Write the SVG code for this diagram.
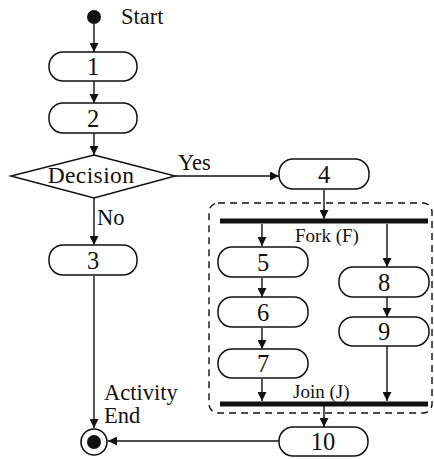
<svg xmlns="http://www.w3.org/2000/svg" width="434" height="459" viewBox="0 0 434 459">
  <defs>
    <marker id="arrow" viewBox="0 0 10 10" refX="10" refY="5" markerWidth="9" markerHeight="9" markerUnits="userSpaceOnUse" orient="auto">
      <path d="M0,0 L10,5 L0,10 z" fill="#111"/>
    </marker>
    <style>
      .node { fill: #fff; stroke: #111; stroke-width: 1.5; }
      .edge { fill: none; stroke: #111; stroke-width: 1.4; marker-end: url(#arrow); }
      .bar { fill: #111; }
      text { font-family: "Liberation Serif", "Times New Roman", serif; fill: #111; }
      .num { font-size: 24.5px; text-anchor: middle; }
      .lbl { font-size: 22.5px; }
      .small { font-size: 19px; }
    </style>
  </defs>

  <rect width="434" height="459" fill="#fff"/>

  <!-- parallel region -->
  <rect id="region" x="209" y="203" width="223" height="210" rx="9" fill="none" stroke="#111" stroke-width="1.4" stroke-dasharray="7,5"/>

  <g id="connectors">
    <path class="edge" d="M94,24 V52"/>
    <path class="edge" d="M94,81 V103"/>
    <path class="edge" d="M94,133 V155"/>
    <path class="edge" d="M175,176 H279"/>
    <path class="edge" d="M94,198 V245"/>
    <path class="edge" d="M94,276 V428"/>
    <path class="edge" d="M324,190 V219"/>
    <path class="edge" d="M262,224 V246"/>
    <path class="edge" d="M262,278 V297"/>
    <path class="edge" d="M262,328 V349"/>
    <path class="edge" d="M262,379 V401"/>
    <path class="edge" d="M387,224 V267"/>
    <path class="edge" d="M387,297 V317"/>
    <path class="edge" d="M387,346 V401"/>
    <path class="edge" d="M324,406 V427"/>
    <path class="edge" d="M279,441 H108"/>
  </g>

  <g id="start">
    <circle cx="94" cy="17" r="7" fill="#111"/>
    <text class="lbl" x="121" y="24">Start</text>
  </g>

  <g id="n1">
    <rect class="node" x="49" y="52" width="88" height="29" rx="14"/>
    <text class="num" x="93" y="75">1</text>
  </g>
  <g id="n2">
    <rect class="node" x="49" y="103" width="88" height="30" rx="14"/>
    <text class="num" x="93" y="127">2</text>
  </g>

  <g id="decision">
    <polygon class="node" points="94,155 175,176 94,198 11,176"/>
    <text x="91" y="183" text-anchor="middle" font-size="23.5" letter-spacing="0.4">Decision</text>
    <text class="lbl" x="178" y="170">Yes</text>
    <text class="lbl" x="97" y="225">No</text>
  </g>

  <g id="n3">
    <rect class="node" x="49" y="245" width="88" height="30" rx="14"/>
    <text class="num" x="93" y="269">3</text>
  </g>

  <g id="n4">
    <rect class="node" x="279" y="159" width="90" height="30" rx="14"/>
    <text class="num" x="324" y="183">4</text>
  </g>

  <g id="fork">
    <rect class="bar" x="220" y="218.5" width="208" height="5"/>
    <text class="small" x="295" y="242">Fork (F)</text>
  </g>

  <g id="n5">
    <rect class="node" x="218" y="247" width="90" height="30" rx="14"/>
    <text class="num" x="263" y="271">5</text>
  </g>
  <g id="n6">
    <rect class="node" x="218" y="297" width="90" height="30" rx="14"/>
    <text class="num" x="263" y="321">6</text>
  </g>
  <g id="n7">
    <rect class="node" x="218" y="349" width="90" height="29" rx="14"/>
    <text class="num" x="263" y="372">7</text>
  </g>
  <g id="n8">
    <rect class="node" x="339" y="267" width="90" height="30" rx="14"/>
    <text class="num" x="384" y="291">8</text>
  </g>
  <g id="n9">
    <rect class="node" x="339" y="317" width="90" height="29" rx="14"/>
    <text class="num" x="384" y="340">9</text>
  </g>

  <g id="join">
    <rect class="bar" x="220" y="401.5" width="208" height="5"/>
    <text class="small" x="293" y="398">Join (J)</text>
  </g>

  <g id="n10">
    <rect class="node" x="279" y="427" width="89" height="29" rx="14"/>
    <text class="num" x="323" y="450">10</text>
  </g>

  <g id="end">
    <circle cx="94" cy="442" r="13" fill="#fff" stroke="#111" stroke-width="1.6"/>
    <circle cx="94" cy="442" r="7" fill="#111"/>
    <text class="lbl" x="104" y="400">Activity</text>
    <text class="lbl" x="104" y="423">End</text>
  </g>
</svg>
